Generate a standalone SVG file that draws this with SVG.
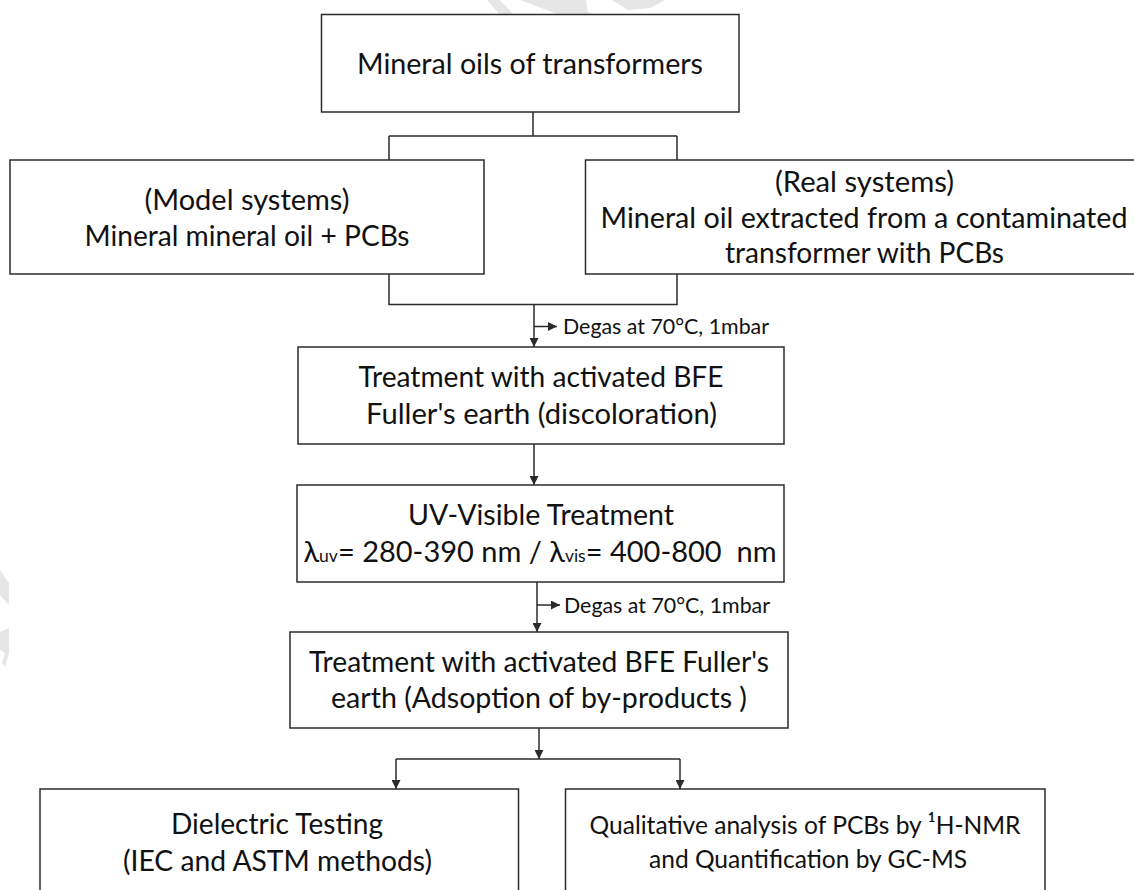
<svg xmlns="http://www.w3.org/2000/svg" width="1134" height="890" viewBox="0 0 1134 890">
  <style>
    .box { fill: #ffffff; stroke: #2b2b2b; stroke-width: 1.5; }
    .line { fill: none; stroke: #2b2b2b; stroke-width: 1.5; }
    .t { font-family: Lato, "Liberation Sans", sans-serif; font-size: 29px; fill: #111111; text-anchor: middle; }
    .small { font-family: Lato, "Liberation Sans", sans-serif; font-size: 21.5px; fill: #111111; }
    .bl { font-size: 28px; }
    .br { font-size: 25.5px; }
    .wm { fill: #e6e6e6; stroke: none; }
  </style>
  <defs>
    <marker id="arrow" viewBox="0 0 10 10" refX="10" refY="5" markerUnits="userSpaceOnUse" markerWidth="9" markerHeight="9" orient="auto">
      <path d="M0,0 L10,5 L0,10 z" fill="#2b2b2b"/>
    </marker>
  </defs>

  <g id="watermark">
    <polygon class="wm" points="487,0 500,0 514,15 500,15"/>
    <polygon class="wm" points="520,0 556,0 596,15 560,15"/>
    <polygon class="wm" points="552,0 586,0 588,15 570,15"/>
    <polygon class="wm" points="612,0 665,0 650,8 628,10"/>
    <polygon class="wm" points="0,570 9,583 9,605 0,595"/>
    <polygon class="wm" points="0,632 9,628 9,653 5,667 2,663 5,653 0,650"/>
  </g>

  <g id="connectors">
    <path class="line" d="M533,112 V136 M389,136 H677 M389,136 V160 M677,136 V160"/>
    <path class="line" d="M389,274 V304.5 H677 V274"/>
    <path class="line" d="M534,304.5 V347" marker-end="url(#arrow)"/>
    <path class="line" d="M534,326.5 H557" marker-end="url(#arrow)"/>
    <path class="line" d="M534,444 V485" marker-end="url(#arrow)"/>
    <path class="line" d="M537,582 V632" marker-end="url(#arrow)"/>
    <path class="line" d="M537,605 H560" marker-end="url(#arrow)"/>
    <path class="line" d="M539,728 V759" marker-end="url(#arrow)"/>
    <path class="line" d="M396,759 H680"/>
    <path class="line" d="M396,759 V789" marker-end="url(#arrow)"/>
    <path class="line" d="M680,759 V789" marker-end="url(#arrow)"/>
    <text class="small" x="563" y="333.5" textLength="206" lengthAdjust="spacingAndGlyphs">Degas at 70°C, 1mbar</text>
    <text class="small" x="564" y="612.5" textLength="206" lengthAdjust="spacingAndGlyphs">Degas at 70°C, 1mbar</text>
  </g>

  <g id="node-mineral-oils">
    <rect class="box" x="321.5" y="14.5" width="417.5" height="97.5"/>
    <text class="t" x="530" y="74" textLength="346" lengthAdjust="spacingAndGlyphs">Mineral oils of transformers</text>
  </g>

  <g id="node-model-systems">
    <rect class="box" x="10" y="160" width="474" height="114"/>
    <text class="t" x="247" y="210" textLength="205" lengthAdjust="spacingAndGlyphs">(Model systems)</text>
    <text class="t" x="247" y="246" textLength="325" lengthAdjust="spacingAndGlyphs">Mineral mineral oil + PCBs</text>
  </g>

  <g id="node-real-systems">
    <rect class="box" x="585.5" y="160" width="560" height="114"/>
    <text class="t" x="864.5" y="192" textLength="179" lengthAdjust="spacingAndGlyphs">(Real systems)</text>
    <text class="t" x="864" y="228" textLength="527" lengthAdjust="spacingAndGlyphs">Mineral oil extracted from a contaminated</text>
    <text class="t" x="864.5" y="263" textLength="279" lengthAdjust="spacingAndGlyphs">transformer with PCBs</text>
  </g>

  <g id="node-treatment-discoloration">
    <rect class="box" x="298" y="347" width="486" height="97"/>
    <text class="t" x="541" y="387" textLength="365" lengthAdjust="spacingAndGlyphs">Treatment with activated BFE</text>
    <text class="t" x="541.5" y="424" textLength="351" lengthAdjust="spacingAndGlyphs">Fuller's earth (discoloration)</text>
  </g>

  <g id="node-uv-visible">
    <rect class="box" x="297" y="485" width="487" height="97"/>
    <text class="t" x="541" y="525" textLength="266" lengthAdjust="spacingAndGlyphs">UV-Visible Treatment</text>
    <text class="t" x="540" y="562" font-size="26.8" xml:space="preserve">λ<tspan font-size="17.5">uv</tspan>= 280-390 nm / λ<tspan font-size="17.5">vis</tspan>= 400-800  nm</text>
  </g>

  <g id="node-treatment-adsorption">
    <rect class="box" x="290" y="632" width="498" height="96"/>
    <text class="t" x="539" y="672" textLength="460" lengthAdjust="spacingAndGlyphs">Treatment with activated BFE Fuller's</text>
    <text class="t" x="539" y="708" textLength="416" lengthAdjust="spacingAndGlyphs">earth (Adsoption of by-products )</text>
  </g>

  <g id="node-dielectric">
    <rect class="box" x="40" y="789" width="478.5" height="120"/>
    <text class="t bl" x="277" y="834" textLength="212" lengthAdjust="spacingAndGlyphs">Dielectric Testing</text>
    <text class="t bl" x="277.5" y="871" textLength="309" lengthAdjust="spacingAndGlyphs">(IEC and ASTM methods)</text>
  </g>

  <g id="node-qualitative">
    <rect class="box" x="565.5" y="789" width="479.5" height="120"/>
    <text class="t br" x="805" y="834" textLength="431" lengthAdjust="spacingAndGlyphs">Qualitative analysis of PCBs by ¹H-NMR</text>
    <text class="t br" x="808" y="868" textLength="318" lengthAdjust="spacingAndGlyphs">and Quantification by GC-MS</text>
  </g>
</svg>
